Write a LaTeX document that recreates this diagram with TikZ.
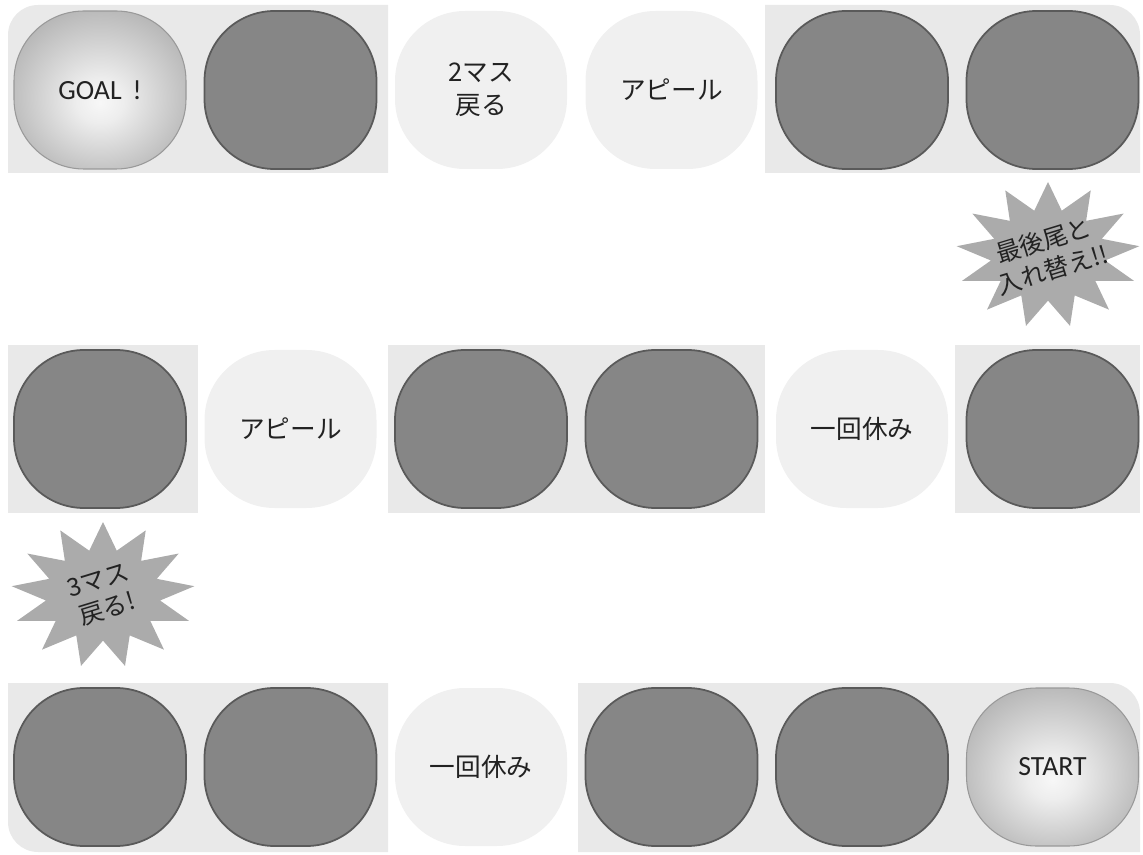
\documentclass[tikz,border=0pt]{standalone}
\usepackage{fontspec}
\setmainfont{Carlito}
\newfontfamily\jpfont{Noto Sans CJK JP}
\usetikzlibrary{shapes.geometric}

\definecolor{bandgray}{HTML}{E9E9E9}
\definecolor{cellgray}{HTML}{868686}
\definecolor{celledge}{HTML}{5A5A5A}
\definecolor{lightcell}{HTML}{F0F0F0}
\definecolor{burstgray}{HTML}{ABABAB}
\definecolor{inkgray}{HTML}{222222}

\pgfdeclareradialshading{spot}{\pgfpoint{0bp}{-4bp}}{%
  rgb(0bp)=(0.97,0.97,0.97); rgb(7bp)=(0.93,0.93,0.93);
  rgb(30bp)=(0.70,0.70,0.70); rgb(50bp)=(0.58,0.58,0.58)}

\begin{document}
\begin{tikzpicture}[
    cell/.style={rectangle, rounded corners=0.7cm, minimum width=1.72cm,
      minimum height=1.58cm, inner sep=0pt, align=center, text=inkgray,
      font=\fontsize{7.9}{9.4}\selectfont},
    darkcell/.style={cell, fill=cellgray, draw=celledge, line width=0.5pt},
    lightsq/.style={cell, fill=lightcell, font=\jpfont\fontsize{7.3}{9.4}\selectfont},
    endcell/.style={cell, shade, shading=spot, draw=gray!80, line width=0.3pt},
    band/.style={fill=bandgray},
    burst/.style={star, star points=13, star point ratio=1.6, minimum size=1.46cm,
      inner sep=0pt, fill=burstgray},
    bursttext/.style={align=center, rotate=17, text=inkgray,
      font=\jpfont\fontsize{7}{8.6}\selectfont}
  ]
    \useasboundingbox (0,0) rectangle (11.43,8.54);

    % Bands behind the squares
    \fill[band] (0.08,6.81) -- (0.08,8.19) arc[start angle=180, end angle=90, radius=0.3]
      -- (3.88,8.49) -- (3.88,6.81) -- cycle;
    \fill[band] (7.65,6.81) -- (7.65,8.49) -- (11.10,8.49)
      arc[start angle=90, end angle=0, radius=0.3] -- (11.40,6.81) -- cycle;
    \fill[band] (0.08,3.41) rectangle (1.98,5.09);
    \fill[band] (3.88,3.41) rectangle (7.65,5.09);
    \fill[band] (9.55,3.41) rectangle (11.40,5.09);
    \fill[band] (0.08,1.71) -- (0.08,0.32) arc[start angle=180, end angle=270, radius=0.3]
      -- (3.88,0.02) -- (3.88,1.71) -- cycle;
    \fill[band] (5.78,0.02) -- (5.78,1.71) -- (11.10,1.71)
      arc[start angle=90, end angle=0, radius=0.3] -- (11.40,0.02) -- cycle;

    % Top row
    \node[endcell] (goal) at (1.0,7.64) {GOAL\ \,!};
    \node[darkcell] (t2) at (2.905,7.64) {};
    \node[lightsq] (t3) at (4.81,7.64) {2マス\\戻る};
    \node[lightsq] (t4) at (6.715,7.64) {アピール};
    \node[darkcell] (t5) at (8.62,7.64) {};
    \node[darkcell] (t6) at (10.525,7.64) {};

    % Middle row
    \node[darkcell] (m1) at (1.0,4.25) {};
    \node[lightsq] (m2) at (2.905,4.25) {アピール};
    \node[darkcell] (m3) at (4.81,4.25) {};
    \node[darkcell] (m4) at (6.715,4.25) {};
    \node[lightsq] (m5) at (8.62,4.25) {一回休み};
    \node[darkcell] (m6) at (10.525,4.25) {};

    % Bottom row
    \node[darkcell] (b1) at (1.0,0.87) {};
    \node[darkcell] (b2) at (2.905,0.87) {};
    \node[lightsq] (b3) at (4.81,0.87) {一回休み};
    \node[darkcell] (b4) at (6.715,0.87) {};
    \node[darkcell] (b5) at (8.62,0.87) {};
    \node[endcell] (start) at (10.525,0.87) {START};

    % Bursts
    \node[burst, xscale=1.26, transform shape] (swap) at (10.48,5.99) {};
    \node[bursttext] (swaptext) at (swap) {最後尾と\\入れ替え!!};
    \node[burst, xscale=1.26, transform shape] (back) at (1.03,2.59) {};
    \node[bursttext] (backtext) at (back) {3マス\\戻る!};
  \end{tikzpicture}
\end{document}
